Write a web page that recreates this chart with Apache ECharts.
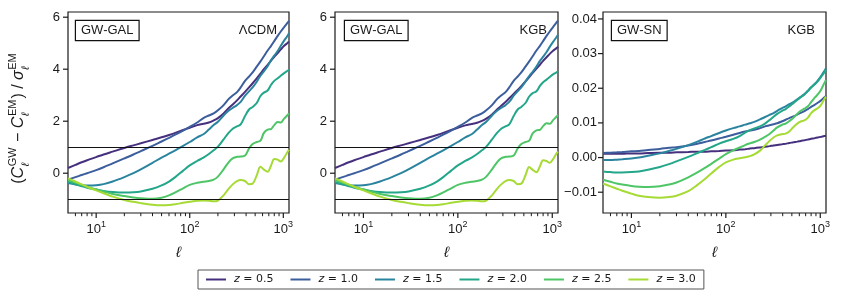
<!DOCTYPE html>
<html><head><meta charset="utf-8">
<script src="https://cdn.jsdelivr.net/npm/echarts@6/dist/echarts.min.js"></script>
<style>html,body{margin:0;padding:0;background:#fff}#c{width:843px;height:298px}</style>
</head><body><div id="c"></div>
<script>
// ---------------- data ----------------
const ell = [5,6,7,8,10,12,15,20,25,30,40,50,60,70,85,100,120,140,160,180,200,230,260,290,320,350,390,430,470,520,570,620,680,740,800,870,940,1020,1100,1150];
const zLabels = ['z = 0.5','z = 1.0','z = 1.5','z = 2.0','z = 2.5','z = 3.0'];
const xMajorTicks = [10,100,1000];
const xMinorTicks = [6,7,8,9,20,30,40,50,60,70,80,90,200,300,400,500,600,700,800,900];
const yTicksGal = [0,2,4,6];
const yTicksSn = [-0.01,0,0.01,0.02,0.03,0.04];

// GW-GAL, LambdaCDM
const lcdm_z05 = [0.20,0.32,0.42,0.50,0.62,0.72,0.83,0.97,1.07,1.15,1.28,1.38,1.47,1.55,1.66,1.75,1.85,1.90,1.95,2.03,2.12,2.30,2.50,2.65,2.80,2.95,3.13,3.30,3.46,3.65,3.83,4.00,4.17,4.33,4.48,4.62,4.76,4.90,5.00,5.06];
const lcdm_z10 = [-0.25,-0.15,-0.07,0.00,0.12,0.23,0.38,0.57,0.72,0.85,1.05,1.22,1.36,1.48,1.64,1.78,1.95,2.12,2.22,2.30,2.42,2.62,2.85,3.00,3.12,3.30,3.55,3.72,3.88,4.10,4.30,4.50,4.72,4.90,5.08,5.28,5.45,5.62,5.77,5.86];
const lcdm_z15 = [-0.38,-0.43,-0.46,-0.47,-0.46,-0.42,-0.32,-0.15,0.00,0.15,0.40,0.60,0.75,0.88,1.05,1.20,1.38,1.50,1.68,1.85,1.98,2.22,2.40,2.52,2.62,2.74,2.98,3.15,3.30,3.52,3.75,3.92,4.12,4.35,4.52,4.70,4.90,5.10,5.27,5.38];
const lcdm_z20 = [-0.33,-0.42,-0.50,-0.56,-0.63,-0.68,-0.72,-0.74,-0.73,-0.70,-0.60,-0.47,-0.32,-0.15,0.10,0.30,0.47,0.60,0.74,0.88,1.02,1.30,1.55,1.72,1.80,1.88,2.20,2.45,2.55,2.70,2.97,3.10,3.18,3.40,3.55,3.65,3.75,3.85,3.93,3.98];
const lcdm_z25 = [-0.27,-0.36,-0.45,-0.52,-0.62,-0.70,-0.80,-0.88,-0.93,-0.96,-0.98,-0.94,-0.85,-0.74,-0.58,-0.45,-0.37,-0.33,-0.30,-0.25,-0.13,0.15,0.42,0.58,0.63,0.64,0.68,0.95,1.12,1.20,1.25,1.55,1.68,1.70,1.85,1.97,1.95,2.10,2.22,2.30];
const lcdm_z30 = [-0.20,-0.32,-0.43,-0.52,-0.66,-0.77,-0.90,-1.03,-1.10,-1.15,-1.21,-1.23,-1.22,-1.19,-1.14,-1.10,-1.06,-1.05,-1.06,-1.08,-1.05,-0.85,-0.60,-0.42,-0.30,-0.26,-0.30,-0.42,-0.40,-0.08,0.25,0.14,0.06,0.30,0.55,0.52,0.45,0.60,0.80,0.90];

// GW-GAL, KGB
const kgb_z05 = [0.20,0.32,0.42,0.50,0.62,0.72,0.83,0.97,1.07,1.15,1.28,1.38,1.47,1.55,1.66,1.75,1.84,1.89,1.94,2.01,2.10,2.26,2.45,2.60,2.74,2.88,3.05,3.20,3.35,3.53,3.70,3.86,4.02,4.17,4.32,4.46,4.59,4.71,4.80,4.86];
const kgb_z10 = [-0.25,-0.15,-0.07,0.00,0.12,0.23,0.38,0.57,0.72,0.85,1.05,1.22,1.36,1.48,1.64,1.78,1.95,2.12,2.22,2.30,2.42,2.62,2.85,3.00,3.12,3.30,3.55,3.72,3.88,4.10,4.30,4.50,4.72,4.90,5.08,5.28,5.45,5.62,5.78,5.87];
const kgb_z15 = [-0.38,-0.43,-0.46,-0.47,-0.46,-0.42,-0.32,-0.15,0.00,0.15,0.40,0.60,0.75,0.88,1.05,1.20,1.38,1.50,1.68,1.85,1.98,2.22,2.40,2.52,2.62,2.74,2.98,3.15,3.30,3.52,3.74,3.90,4.10,4.32,4.48,4.66,4.86,5.05,5.22,5.32];
const kgb_z20 = [-0.33,-0.42,-0.50,-0.56,-0.63,-0.68,-0.72,-0.74,-0.73,-0.70,-0.60,-0.47,-0.32,-0.15,0.10,0.30,0.47,0.60,0.74,0.88,1.02,1.30,1.55,1.72,1.80,1.88,2.20,2.45,2.55,2.70,2.95,3.08,3.15,3.36,3.50,3.60,3.70,3.80,3.87,3.92];
const kgb_z25 = [-0.27,-0.36,-0.45,-0.52,-0.62,-0.70,-0.80,-0.88,-0.93,-0.96,-0.98,-0.94,-0.85,-0.74,-0.58,-0.45,-0.37,-0.33,-0.30,-0.25,-0.13,0.15,0.42,0.58,0.63,0.64,0.68,0.95,1.12,1.20,1.25,1.53,1.65,1.67,1.81,1.92,1.90,2.04,2.16,2.24];
const kgb_z30 = [-0.20,-0.32,-0.43,-0.52,-0.66,-0.77,-0.90,-1.03,-1.10,-1.15,-1.21,-1.23,-1.22,-1.19,-1.14,-1.10,-1.06,-1.05,-1.06,-1.08,-1.05,-0.85,-0.60,-0.42,-0.30,-0.26,-0.30,-0.42,-0.40,-0.08,0.24,0.13,0.04,0.27,0.50,0.47,0.40,0.54,0.74,0.83];

// GW-SN, KGB
const sn_z05 = [0.0011,0.0011,0.0011,0.0011,0.0012,0.0012,0.0013,0.0014,0.0014,0.0015,0.0016,0.0017,0.0017,0.0018,0.0019,0.0020,0.0021,0.0023,0.0024,0.0026,0.0027,0.0029,0.0031,0.0033,0.0035,0.0036,0.0038,0.0040,0.0042,0.0044,0.0046,0.0048,0.0050,0.0052,0.0054,0.0056,0.0058,0.0060,0.0062,0.0063];
const sn_z10 = [0.0013,0.0014,0.0015,0.0016,0.0018,0.0019,0.0022,0.0025,0.0028,0.0030,0.0035,0.0040,0.0045,0.0049,0.0055,0.0060,0.0066,0.0071,0.0075,0.0078,0.0080,0.0085,0.0090,0.0093,0.0096,0.0099,0.0104,0.0109,0.0114,0.0119,0.0124,0.0129,0.0134,0.0140,0.0146,0.0152,0.0158,0.0165,0.0173,0.0178];
const sn_z15 = [-0.0007,-0.0007,-0.0006,-0.0005,-0.0003,0.0000,0.0005,0.0012,0.0019,0.0025,0.0036,0.0046,0.0055,0.0062,0.0071,0.0078,0.0085,0.0090,0.0095,0.0099,0.0103,0.0110,0.0117,0.0123,0.0128,0.0135,0.0142,0.0148,0.0154,0.0160,0.0168,0.0175,0.0183,0.0193,0.0203,0.0212,0.0222,0.0235,0.0249,0.0258];
const sn_z20 = [-0.0040,-0.0042,-0.0043,-0.0043,-0.0042,-0.0040,-0.0035,-0.0027,-0.0019,-0.0011,0.0002,0.0013,0.0022,0.0030,0.0040,0.0047,0.0054,0.0062,0.0072,0.0079,0.0084,0.0090,0.0098,0.0108,0.0118,0.0126,0.0134,0.0140,0.0148,0.0157,0.0166,0.0174,0.0182,0.0192,0.0202,0.0211,0.0220,0.0233,0.0245,0.0253];
const sn_z25 = [-0.0064,-0.0070,-0.0075,-0.0078,-0.0082,-0.0084,-0.0085,-0.0083,-0.0078,-0.0072,-0.0057,-0.0043,-0.0030,-0.0018,-0.0003,0.0010,0.0021,0.0029,0.0036,0.0041,0.0045,0.0052,0.0060,0.0068,0.0078,0.0087,0.0094,0.0098,0.0105,0.0115,0.0126,0.0135,0.0141,0.0148,0.0160,0.0172,0.0182,0.0196,0.0214,0.0224];
const sn_z30 = [-0.0075,-0.0083,-0.0090,-0.0096,-0.0104,-0.0110,-0.0114,-0.0116,-0.0114,-0.0110,-0.0097,-0.0079,-0.0062,-0.0046,-0.0027,-0.0014,-0.0006,-0.0002,0.0001,0.0004,0.0009,0.0020,0.0035,0.0048,0.0058,0.0064,0.0067,0.0069,0.0075,0.0088,0.0098,0.0104,0.0107,0.0115,0.0128,0.0137,0.0142,0.0152,0.0168,0.0176];

const colors = ['#46307e','#3c5e9c','#2b849f','#23a689','#4ec566','#a6da35'];

// ---------------- chart ----------------
const FAM = '"Liberation Sans", Arial, sans-serif';
const TXT = '#1a1a1a';
const X_MIN = 5, X_MAX = 1150;
const panels = [
  {left: 68, width: 221, data: [lcdm_z05,lcdm_z10,lcdm_z15,lcdm_z20,lcdm_z25,lcdm_z30], gal: true, ymin: -1.53, ymax: 6.2, yt: yTicksGal},
  {left: 335, width: 223, data: [kgb_z05,kgb_z10,kgb_z15,kgb_z20,kgb_z25,kgb_z30], gal: true, ymin: -1.53, ymax: 6.2, yt: yTicksGal},
  {left: 603, width: 223, data: [sn_z05,sn_z10,sn_z15,sn_z20,sn_z25,sn_z30], gal: false, ymin: -0.016, ymax: 0.042, yt: yTicksSn}
];

const grids = [], xAxes = [], yAxes = [], series = [];
panels.forEach((p, i) => {
  grids.push({left: p.left, top: 12, width: p.width, height: 201, show: true,
    borderColor: '#1a1a1a', borderWidth: 1.2, backgroundColor: 'transparent'});
  xAxes.push({
    type: 'log', logBase: 10, gridIndex: i, min: X_MIN, max: X_MAX, position: 'bottom',
    axisLine: {show: false, onZero: false}, splitLine: {show: false}, axisTick: {show: false},
    axisLabel: {
      customValues: xMajorTicks, margin: 7, color: TXT,
      formatter: v => '{b|10}{s|' + Math.round(Math.log10(v)) + '}',
      rich: {
        b: {fontSize: 13, fontFamily: FAM, color: TXT, verticalAlign: 'bottom'},
        s: {fontSize: 9, fontFamily: FAM, color: TXT, verticalAlign: 'bottom', padding: [0, 0, 7, 0]}
      }
    },
    name: 'ℓ', nameLocation: 'middle', nameGap: 32,
    nameTextStyle: {fontStyle: 'italic', fontSize: 15, fontFamily: FAM, color: TXT}
  });
  yAxes.push({
    type: 'value', gridIndex: i, min: p.ymin, max: p.ymax, position: 'left',
    axisLine: {show: false, onZero: false}, splitLine: {show: false}, axisTick: {show: false},
    axisLabel: p.gal ? {customValues: p.yt, margin: 8, fontSize: 13, fontFamily: FAM, color: TXT}
      : {customValues: p.yt, margin: 6, fontSize: 13, fontFamily: FAM, color: TXT,
         formatter: v => (Math.abs(v) < 1e-9 ? '0.00' : v.toFixed(2).replace('-', '−'))}
  });
  p.data.forEach((arr, k) => {
    const s = {
      type: 'line', name: zLabels[k], xAxisIndex: i, yAxisIndex: i,
      data: ell.map((l, j) => [l, arr[j]]),
      showSymbol: false, smooth: 0.35, clip: true,
      lineStyle: {width: 2, color: colors[k]}, itemStyle: {color: colors[k]},
      emphasis: {disabled: true}
    };
    if (k === 0 && p.gal) {
      s.markLine = {silent: true, symbol: ['none', 'none'], label: {show: false},
        lineStyle: {color: '#111', width: 1.2, type: 'solid'},
        emphasis: {disabled: true},
        data: [{yAxis: 1}, {yAxis: -1}]};
    }
    series.push(s);
  });
});

// y-axis label with stacked scripts
function measure(t, font) {
  const c = document.createElement('canvas').getContext('2d');
  c.font = font; return c.measureText(t).width;
}
const mainF = '16px ' + FAM, itF = 'italic 16px ' + FAM, scF = '11px ' + FAM, scIt = 'italic 11px ' + FAM;
const parts = [['(', mainF], ['C', itF], ['GW', 'ℓ'], [' − ', mainF], ['C', itF], ['EM', 'ℓ'],
  [')', mainF], [' / ', mainF], ['σ', itF], ['EM', 'ℓ']];
let cx = 0; const kids = [];
parts.forEach(pt => {
  if (pt[1] === 'ℓ') {
    const w1 = measure(pt[0], scF), w2 = measure('ℓ', scIt);
    kids.push({type: 'text', x: cx + 0.5, y: -6, style: {text: pt[0], font: scF, fill: TXT, verticalAlign: 'middle'}});
    kids.push({type: 'text', x: cx + 0.5, y: 6.5, style: {text: 'ℓ', font: scIt, fill: TXT, verticalAlign: 'middle'}});
    cx += Math.max(w1, w2) + 1.5;
  } else {
    kids.push({type: 'text', x: cx, y: 0, style: {text: pt[0], font: pt[1], fill: TXT, verticalAlign: 'middle'}});
    cx += measure(pt[0], pt[1]);
  }
});
kids.forEach(k => { k.x -= cx / 2; });

const boxStyle = (t) => ({text: t, font: '13px ' + FAM, fill: TXT, padding: [3, 5, 3, 5],
  borderColor: '#111', borderWidth: 1.2, backgroundColor: '#fff', verticalAlign: 'top'});
const graphic = [
  {type: 'group', id: 'ylab', x: 19, y: 118, rotation: Math.PI / 2, children: kids},
  {type: 'text', id: 'b1', x: 76, y: 21, z: 10, style: boxStyle('GW-GAL')},
  {type: 'text', id: 'b2', x: 345, y: 21, z: 10, style: boxStyle('GW-GAL')},
  {type: 'text', id: 'b3', x: 612, y: 21, z: 10, style: boxStyle('GW-SN')},
  {type: 'text', id: 't1', x: 277, y: 30, z: 10, style: {text: 'ΛCDM', font: '13px ' + FAM, fill: TXT, align: 'right', verticalAlign: 'middle'}},
  {type: 'text', id: 't2', x: 547, y: 30, z: 10, style: {text: 'KGB', font: '13px ' + FAM, fill: TXT, align: 'right', verticalAlign: 'middle'}},
  {type: 'text', id: 't3', x: 815, y: 30, z: 10, style: {text: 'KGB', font: '13px ' + FAM, fill: TXT, align: 'right', verticalAlign: 'middle'}}
];

const chart = echarts.init(document.getElementById('c'), null, {renderer: 'canvas'});
chart.setOption({
  animation: false,
  backgroundColor: '#fff',
  textStyle: {fontFamily: FAM},
  grid: grids, xAxis: xAxes, yAxis: yAxes, series: series,
  legend: {
    data: zLabels, left: 198, top: 270, orient: 'horizontal', icon: 'rect',
    itemWidth: 20, itemHeight: 2, itemGap: 17, padding: [4, 8],
    borderColor: '#555', borderWidth: 1, selectedMode: false,
    formatter: n => '{i|z} = ' + n.split('= ')[1],
    textStyle: {fontFamily: '"DejaVu Sans", sans-serif', fontSize: 11, color: TXT,
      rich: {i: {fontStyle: 'italic', fontFamily: '"DejaVu Sans", sans-serif', fontSize: 11, color: TXT, padding: [0, 0, 0, 3]}}}
  }
});

// tick marks placed through the chart's own axis scales
const tickEls = [];
let tid = 0;
panels.forEach((p, i) => {
  const mk = (v, len, w) => {
    const pt = chart.convertToPixel({gridIndex: i}, [v, p.ymin]);
    if (!pt || !isFinite(pt[0])) return;
    tickEls.push({type: 'line', id: 'tk' + (tid++), z: 20,
      shape: {x1: pt[0], y1: pt[1], x2: pt[0], y2: pt[1] + len},
      style: {stroke: TXT, lineWidth: w}});
  };
  xMajorTicks.forEach(v => mk(v, 5, 1.2));
  xMinorTicks.forEach(v => mk(v, 3.2, 1));
  p.yt.forEach(v => {
    const pt = chart.convertToPixel({gridIndex: i}, [X_MIN, v]);
    if (!pt || !isFinite(pt[1])) return;
    tickEls.push({type: 'line', id: 'tk' + (tid++), z: 20,
      shape: {x1: pt[0], y1: pt[1], x2: pt[0] - 5, y2: pt[1]},
      style: {stroke: TXT, lineWidth: 1.2}});
  });
});
chart.setOption({graphic: graphic.concat(tickEls)});
</script></body></html>
